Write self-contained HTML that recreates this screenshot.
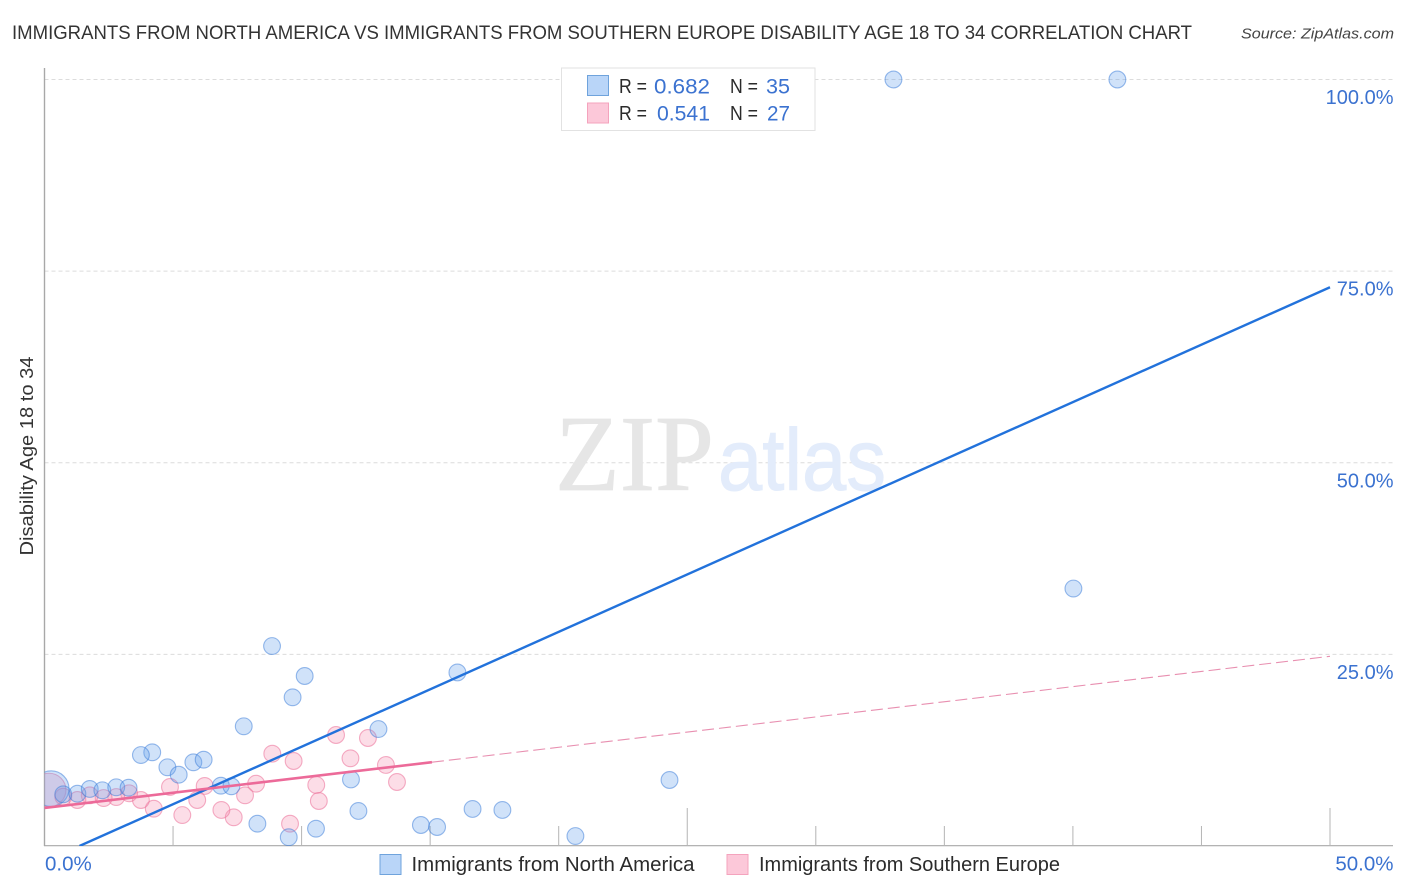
<!DOCTYPE html>
<html lang="en">
<head>
<meta charset="utf-8">
<title>Immigrants from North America vs Immigrants from Southern Europe Disability Age 18 to 34 Correlation Chart</title>
<style>
html,body{margin:0;padding:0;background:#fff;}
body{width:1406px;height:892px;overflow:hidden;}
svg{display:block;font-family:"Liberation Sans",sans-serif;}
</style>
</head>
<body>
<svg id="chart" width="1406" height="892" viewBox="0 0 1406 892" xmlns="http://www.w3.org/2000/svg">
  <defs>
    <clipPath id="plot-clip"><rect x="44.5" y="60" width="1350" height="786"/></clipPath>
  </defs>
  <rect x="0" y="0" width="1406" height="892" fill="#ffffff"/>
  <text x="12" y="39" font-size="19" fill="#333333" textLength="1180" lengthAdjust="spacingAndGlyphs">IMMIGRANTS FROM NORTH AMERICA VS IMMIGRANTS FROM SOUTHERN EUROPE DISABILITY AGE 18 TO 34 CORRELATION CHART</text>
  <text x="1241" y="38.5" font-size="15" font-style="italic" fill="#444444" textLength="153" lengthAdjust="spacingAndGlyphs">Source: ZipAtlas.com</text>

  <g id="gridlines"></g>

  <g>
    <text x="555" y="490" font-family="'Liberation Serif',serif" font-size="108" fill="#e6e6e6" stroke="#e6e6e6" stroke-width="0.8" textLength="159" lengthAdjust="spacingAndGlyphs">ZIP</text>
    <text x="718" y="490" font-size="87" fill="#e3ecfb" stroke="#e3ecfb" stroke-width="1" textLength="168" lengthAdjust="spacingAndGlyphs">atlas</text>
  </g>

  <g id="axes"></g>
  <g id="points-pink" clip-path="url(#plot-clip)"></g>
  <g id="points-blue" clip-path="url(#plot-clip)"></g>
  <g id="trends" clip-path="url(#plot-clip)"></g>
  <g id="tick-labels"></g>

  <text transform="translate(33 555.5) rotate(-90)" font-size="18" fill="#333333" textLength="199" lengthAdjust="spacingAndGlyphs">Disability Age 18 to 34</text>

  <g>
    <rect x="561.5" y="68" width="253.5" height="62.5" fill="#ffffff" stroke="#e2e2e2" stroke-width="1"/>
    <rect x="587.5" y="75.5" width="21" height="20" fill="#b9d5f8" stroke="#6fa3dc" stroke-width="1"/>
    <rect x="587.5" y="103" width="21" height="20" fill="#fcc8d9" stroke="#f4a3bd" stroke-width="1"/>
    <g font-size="20" fill="#2b2b2b">
      <text x="619" y="93" textLength="28" lengthAdjust="spacingAndGlyphs">R =</text>
      <text x="730" y="93" textLength="28" lengthAdjust="spacingAndGlyphs">N =</text>
      <text x="619" y="120" textLength="28" lengthAdjust="spacingAndGlyphs">R =</text>
      <text x="730" y="120" textLength="28" lengthAdjust="spacingAndGlyphs">N =</text>
    </g>
    <g font-size="21" fill="#3b72d0">
      <text x="654" y="93.5" textLength="56" lengthAdjust="spacingAndGlyphs">0.682</text>
      <text x="766" y="93.5" textLength="24" lengthAdjust="spacingAndGlyphs">35</text>
      <text x="657" y="120.5" textLength="53" lengthAdjust="spacingAndGlyphs">0.541</text>
      <text x="767" y="120.5" textLength="23" lengthAdjust="spacingAndGlyphs">27</text>
    </g>
  </g>

  <g>
    <rect x="380" y="854.5" width="21" height="20" fill="#b9d5f8" stroke="#6fa3dc" stroke-width="1"/>
    <text x="411.5" y="871" font-size="20" fill="#2b2b2b" textLength="283" lengthAdjust="spacingAndGlyphs">Immigrants from North America</text>
    <rect x="727" y="854.5" width="21" height="20" fill="#fcc8d9" stroke="#f4a3bd" stroke-width="1"/>
    <text x="759" y="871" font-size="20" fill="#2b2b2b" textLength="301" lengthAdjust="spacingAndGlyphs">Immigrants from Southern Europe</text>
  </g>
</svg>

<script>
const yTickValues = [100, 75, 50, 25];
const yTickLabels = ["100.0%", "75.0%", "50.0%", "25.0%"];
const xTickValues = [0, 5, 10, 15, 20, 25, 30, 35, 40, 45, 50];
const xMajorTicks = [25, 50];
const xEndLabels = ["0.0%", "50.0%"];

const blueX = [33.02, 41.73, 40.02, 8.85, 10.12, 9.65, 7.75, 16.06, 12.99, 4.19, 3.75, 4.78, 5.22, 5.79, 6.19, 6.86, 7.27, 11.92, 24.31, 0.73, 1.28, 1.76, 2.25, 2.79, 3.27, 8.28, 9.50, 10.56, 12.21, 14.64, 15.27, 16.65, 17.81, 20.65];
const blueY = [100, 100, 33.59, 26.09, 22.18, 19.40, 15.62, 22.64, 15.26, 12.22, 11.87, 10.27, 9.30, 10.92, 11.26, 7.87, 7.79, 8.68, 8.61, 6.74, 6.82, 7.44, 7.27, 7.66, 7.61, 2.91, 1.14, 2.26, 4.57, 2.74, 2.48, 4.83, 4.70, 1.30];
const blueClusterX = [0.26];
const blueClusterY = [7.48];
const blueClusterWeight = [4.5];

const pinkX = [4.88, 6.23, 8.23, 8.86, 9.69, 11.34, 11.90, 10.57, 10.67, 9.55, 7.80, 7.36, 6.88, 5.94, 5.36, 4.25, 3.75, 3.29, 2.79, 2.30, 1.76, 1.28, 0.73, 12.58, 13.28, 13.71];
const pinkY = [7.70, 7.83, 8.13, 12.04, 11.09, 14.48, 11.44, 7.96, 5.87, 2.91, 6.61, 3.74, 4.70, 6.00, 4.04, 4.87, 6.00, 6.88, 6.39, 6.26, 6.61, 6.00, 6.43, 14.09, 10.57, 8.35];
const pinkClusterX = [0.18];
const pinkClusterY = [7.30];
const pinkClusterWeight = [4];

const blueTrendX = [1.36, 50];
const blueTrendY = [0, 72.9];
const pinkTrendSolidX = [0, 15.07];
const pinkTrendSolidY = [4.96, 10.93];
const pinkTrendDashX = [15.07, 50];
const pinkTrendDashY = [10.93, 24.75];

const NS = "http://www.w3.org/2000/svg";
function xScale(v) { return 44.5 + v * 25.71; }
function yScale(v) { return 846 - v * 7.665; }
function make(tag, parentId, attrs, text) {
  const el = document.createElementNS(NS, tag);
  for (const k in attrs) el.setAttribute(k, attrs[k]);
  if (text !== undefined) el.textContent = text;
  document.getElementById(parentId).appendChild(el);
  return el;
}

yTickValues.forEach(function (v) {
  const el = make("line", "gridlines", { x1: 44.5, x2: 1393, y1: yScale(v), y2: yScale(v), stroke: "#dcdcdc", "stroke-width": 1, "stroke-dasharray": "4 3" });
  
  
});

const yAxisLine = make("line", "axes", { x1: 44.5, x2: 44.5, y1: 68, y2: 846, stroke: "#a8a8a8", "stroke-width": 1.4 });


const xAxisLine = make("line", "axes", { x1: 44, x2: 1393, y1: 845.7, y2: 845.7, stroke: "#a8a8a8", "stroke-width": 1.2 });


xTickValues.slice(1).forEach(function (v) {
  const top = xMajorTicks.indexOf(v) >= 0 ? 808 : 826;
  const el = make("line", "axes", { x1: xScale(v), x2: xScale(v), y1: top, y2: 846, stroke: "#b4b4b4", "stroke-width": 1 });
  
  
});

function drawPoints(parentId, xs, ys, weights, fill, stroke, name) {
  xs.forEach(function (x, i) {
    const w = weights ? weights[i] : 1;
    const el = make("circle", parentId, { cx: xScale(x), cy: yScale(ys[i]), r: 8.4 * Math.sqrt(w), fill: fill, stroke: stroke, "stroke-width": 1.1 });
    
    
  });
}
const pinkFill = "rgba(246,150,180,0.32)", pinkStroke = "rgba(236,120,158,0.6)";
const blueFill = "rgba(100,160,235,0.3)", blueStroke = "rgba(52,120,215,0.5)";
drawPoints("points-pink", pinkClusterX, pinkClusterY, pinkClusterWeight, pinkFill, pinkStroke, "southern-europe-cluster-point");
drawPoints("points-pink", pinkX, pinkY, null, pinkFill, pinkStroke, "southern-europe-point");
drawPoints("points-blue", blueClusterX, blueClusterY, blueClusterWeight, blueFill, blueStroke, "north-america-cluster-point");
drawPoints("points-blue", blueX, blueY, null, blueFill, blueStroke, "north-america-point");

const pinkDash = make("line", "trends", { x1: xScale(pinkTrendDashX[0]), y1: yScale(pinkTrendDashY[0]), x2: xScale(pinkTrendDashX[1]), y2: yScale(pinkTrendDashY[1]), stroke: "#e88fb0", "stroke-width": 1.1, "stroke-dasharray": "12 5" });


const blueTrend = make("line", "trends", { x1: xScale(blueTrendX[0]), y1: yScale(blueTrendY[0]), x2: xScale(blueTrendX[1]), y2: yScale(blueTrendY[1]), stroke: "#2272db", "stroke-width": 2.4 });


const pinkTrend = make("line", "trends", { x1: xScale(pinkTrendSolidX[0]), y1: yScale(pinkTrendSolidY[0]), x2: xScale(pinkTrendSolidX[1]), y2: yScale(pinkTrendSolidY[1]), stroke: "#ec6a99", "stroke-width": 2.6 });



yTickValues.forEach(function (v, i) {
  const el = make("text", "tick-labels", { x: 1393.5, y: yScale(v) + 24.5, "text-anchor": "end", "font-size": 20, fill: "#3b72d0" }, yTickLabels[i]);
  
  
});
const xLabelStart = make("text", "tick-labels", { x: xScale(0) + 0.5, y: 870.5, "font-size": 20.5, fill: "#3b72d0" }, xEndLabels[0]);


const xLabelEnd = make("text", "tick-labels", { x: 1393.5, y: 870.5, "text-anchor": "end", "font-size": 20.5, fill: "#3b72d0" }, xEndLabels[1]);


</script>
</body>
</html>
